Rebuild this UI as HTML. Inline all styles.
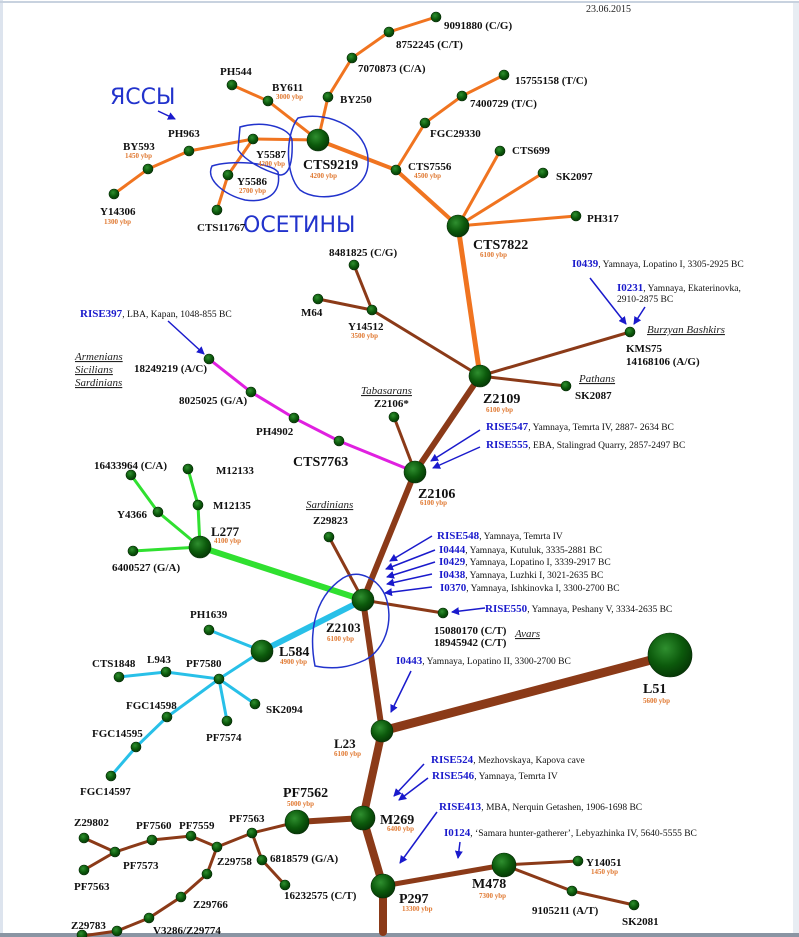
<!DOCTYPE html>
<html><head><meta charset="utf-8"><style>
html,body{margin:0;padding:0;background:#fff;}
svg{display:block;font-family:"Liberation Serif",serif;}
.l{font-weight:bold;font-size:11px;fill:#111;}
.b{font-weight:bold;font-size:14px;fill:#111;}
.y{font-weight:bold;font-size:7px;fill:#e07830;}
.a{font-size:9.5px;fill:#111;}
.k{font-weight:bold;fill:#1a1acc;font-size:11px;}
.i{font-style:italic;font-size:11px;fill:#222;text-decoration:underline;}
.h{font-family:"DejaVu Sans",sans-serif;font-size:22px;fill:#2233cc;}
</style></head><body>
<svg width="799" height="937" viewBox="0 0 799 937" xmlns="http://www.w3.org/2000/svg">
<defs>
<radialGradient id="g" cx="40%" cy="35%" r="65%"><stop offset="0" stop-color="#2f8f2f"/><stop offset="0.6" stop-color="#0c5a0c"/><stop offset="1" stop-color="#063a06"/></radialGradient>
<marker id="ar" markerWidth="8" markerHeight="8" refX="7" refY="4" orient="auto" markerUnits="userSpaceOnUse"><path d="M0,0 L8,4 L0,8 z" fill="#1a1acc"/></marker>
</defs>
<rect x="0" y="0" width="799" height="937" fill="#fff"/>
<rect x="0" y="0" width="3" height="937" fill="#dde4ee"/>
<rect x="0" y="1" width="799" height="2" fill="#c8d2df"/>
<rect x="793" y="3" width="6" height="934" fill="#e8edf3"/>
<rect x="0" y="933" width="799" height="4" fill="#8a95a3"/>

<g fill="none" stroke-linecap="round">
<!-- orange -->
<g stroke="#f07420" stroke-width="3">
<path d="M318,140 L328,97 L352,58 L389,32 L436,17"/>
<path d="M318,140 L268,101 L232,85"/>
<path d="M318,140 L253,139 L189,151 L148,169 L114,194"/>
<path d="M253,139 L228,175 L217,210"/>
<path d="M396,170 L425,123 L462,96 L504,75"/>
<path d="M458,226 L500,151 M458,226 L543,173 M458,226 L576,216"/>
</g>
<path d="M318,140 L396,170 L458,226" stroke="#f07420" stroke-width="4"/>
<path d="M458,226 L480,376" stroke="#f07420" stroke-width="5"/>
<!-- brown thin -->
<g stroke="#8b3a18" stroke-width="3">
<path d="M354,265 L372,310 L480,376 M318,299 L372,310"/>
<path d="M480,376 L630,332 M480,376 L566,386"/>
<path d="M394,417 L415,472"/>
<path d="M329,537 L363,600 L443,613"/>
<path d="M297,822 L252,833 L217,847 L191,836 L152,840 L115,852 L84,838 M115,852 L84,870"/>
<path d="M252,833 L262,860 L285,885"/>
<path d="M217,847 L207,874 L181,897 L149,918 L117,931 L82,936"/>
<path d="M504,865 L578,861 M504,865 L572,891 L634,905"/>
</g>
<path d="M480,376 L415,472 L363,600 L382,731" stroke="#8b3a18" stroke-width="6"/>
<path d="M382,731 L670,655" stroke="#8b3a18" stroke-width="9"/>
<path d="M382,731 L363,818 L383,886 L383,932" stroke="#8b3a18" stroke-width="8"/>
<path d="M363,818 L297,822" stroke="#8b3a18" stroke-width="6"/>
<path d="M383,886 L504,865" stroke="#8b3a18" stroke-width="5"/>
<!-- magenta -->
<path d="M209,359 L251,392 L294,418 L339,441 L415,472" stroke="#e020e0" stroke-width="3"/>
<!-- green -->
<g stroke="#30e030" stroke-width="3">
<path d="M131,475 L158,512 L200,547 M188,469 L198,505 L200,547 M133,551 L200,547"/>
</g>
<path d="M200,547 L363,600" stroke="#30e030" stroke-width="6"/>
<!-- cyan -->
<g stroke="#28c0e8" stroke-width="3">
<path d="M209,630 L262,651 M119,677 L166,672 L219,679 L262,651"/>
<path d="M219,679 L255,704 M219,679 L227,721 M219,679 L167,717 L136,747 L111,776"/>
</g>
<path d="M262,651 L363,600" stroke="#28c0e8" stroke-width="6"/>
</g>

<g fill="url(#g)" stroke="#052a05" stroke-width="0.6">
<circle cx="318" cy="140" r="11"/><circle cx="328" cy="97" r="5"/><circle cx="352" cy="58" r="5"/><circle cx="389" cy="32" r="5"/><circle cx="436" cy="17" r="5"/>
<circle cx="268" cy="101" r="5"/><circle cx="232" cy="85" r="5"/><circle cx="253" cy="139" r="5"/><circle cx="189" cy="151" r="5"/><circle cx="148" cy="169" r="5"/><circle cx="114" cy="194" r="5"/>
<circle cx="228" cy="175" r="5"/><circle cx="217" cy="210" r="5"/><circle cx="396" cy="170" r="5"/><circle cx="425" cy="123" r="5"/><circle cx="462" cy="96" r="5"/><circle cx="504" cy="75" r="5"/>
<circle cx="458" cy="226" r="11"/><circle cx="500" cy="151" r="5"/><circle cx="543" cy="173" r="5"/><circle cx="576" cy="216" r="5"/>
<circle cx="354" cy="265" r="5"/><circle cx="318" cy="299" r="5"/><circle cx="372" cy="310" r="5"/><circle cx="630" cy="332" r="5"/><circle cx="566" cy="386" r="5"/>
<circle cx="480" cy="376" r="11"/><circle cx="415" cy="472" r="11"/><circle cx="394" cy="417" r="5"/>
<circle cx="209" cy="359" r="5"/><circle cx="251" cy="392" r="5"/><circle cx="294" cy="418" r="5"/><circle cx="339" cy="441" r="5"/>
<circle cx="131" cy="475" r="5"/><circle cx="158" cy="512" r="5"/><circle cx="188" cy="469" r="5"/><circle cx="198" cy="505" r="5"/><circle cx="133" cy="551" r="5"/><circle cx="200" cy="547" r="11"/>
<circle cx="329" cy="537" r="5"/><circle cx="363" cy="600" r="11"/><circle cx="443" cy="613" r="5"/>
<circle cx="262" cy="651" r="11"/><circle cx="209" cy="630" r="5"/><circle cx="219" cy="679" r="5"/><circle cx="166" cy="672" r="5"/><circle cx="119" cy="677" r="5"/><circle cx="255" cy="704" r="5"/><circle cx="227" cy="721" r="5"/><circle cx="167" cy="717" r="5"/><circle cx="136" cy="747" r="5"/><circle cx="111" cy="776" r="5"/>
<circle cx="382" cy="731" r="11"/><circle cx="670" cy="655" r="22"/><circle cx="363" cy="818" r="12"/><circle cx="383" cy="886" r="12"/><circle cx="297" cy="822" r="12"/>
<circle cx="252" cy="833" r="5"/><circle cx="217" cy="847" r="5"/><circle cx="191" cy="836" r="5"/><circle cx="152" cy="840" r="5"/><circle cx="115" cy="852" r="5"/><circle cx="84" cy="838" r="5"/><circle cx="84" cy="870" r="5"/>
<circle cx="262" cy="860" r="5"/><circle cx="285" cy="885" r="5"/><circle cx="207" cy="874" r="5"/><circle cx="181" cy="897" r="5"/><circle cx="149" cy="918" r="5"/><circle cx="117" cy="931" r="5"/><circle cx="82" cy="935" r="5"/>
<circle cx="504" cy="865" r="12"/><circle cx="578" cy="861" r="5"/><circle cx="572" cy="891" r="5"/><circle cx="634" cy="905" r="5"/>
</g>

<!-- arrows -->
<g stroke="#1a1acc" stroke-width="1.5" marker-end="url(#ar)">
<line x1="590" y1="278" x2="626" y2="324"/><line x1="645" y1="307" x2="634" y2="324"/>
<line x1="168" y1="321" x2="204" y2="354"/>
<line x1="480" y1="430" x2="431" y2="461"/><line x1="480" y1="447" x2="433" y2="468"/>
<line x1="432" y1="536" x2="390" y2="561"/><line x1="435" y1="550" x2="386" y2="569"/><line x1="435" y1="562" x2="387" y2="577"/><line x1="432" y1="574" x2="387" y2="584"/><line x1="432" y1="587" x2="385" y2="593"/>
<line x1="485" y1="608" x2="452" y2="612"/>
<line x1="411" y1="671" x2="391" y2="712"/>
<line x1="424" y1="764" x2="394" y2="796"/><line x1="428" y1="778" x2="399" y2="800"/>
<line x1="437" y1="812" x2="400" y2="863"/>
<line x1="460" y1="842" x2="458" y2="858"/>
<line x1="158" y1="111" x2="175" y2="119"/>
</g>

<!-- hand drawn -->
<g fill="none" stroke="#2233cc" stroke-width="1.5">
<path d="M298,118 C330,110 368,130 368,160 C370,195 320,205 300,190 C285,175 285,135 298,118 Z"/>
<path d="M240,127 C265,120 290,128 292,140 C293,160 290,175 280,175 C262,170 245,160 238,150 Z"/>
<path d="M212,166 C230,160 270,162 278,172 C282,195 265,203 245,200 C225,195 205,180 212,166 Z"/>
<path d="M343,578 C360,568 378,580 385,595 C395,620 385,650 365,660 C350,667 335,670 315,666 C310,640 310,600 343,578 Z"/>
</g>
<text x="110" y="104" class="h">ЯССЫ</text>
<text x="243" y="232" class="h">ОСЕТИНЫ</text>

<text x="586" y="12" style="font-size:10px;fill:#222">23.06.2015</text>

<!-- labels orange area -->
<text x="220" y="75" class="l">PH544</text>
<text x="272" y="91" class="l">BY611</text><text x="276" y="99" class="y">3000 ybp</text>
<text x="340" y="103" class="l">BY250</text>
<text x="358" y="72" class="l">7070873 (C/A)</text>
<text x="396" y="48" class="l">8752245 (C/T)</text>
<text x="444" y="29" class="l">9091880 (C/G)</text>
<text x="168" y="137" class="l">PH963</text>
<text x="123" y="150" class="l">BY593</text><text x="125" y="158" class="y">1450 ybp</text>
<text x="100" y="215" class="l">Y14306</text><text x="104" y="224" class="y">1300 ybp</text>
<text x="256" y="158" class="l">Y5587</text><text x="258" y="166" class="y">4200 ybp</text>
<text x="237" y="185" class="l">Y5586</text><text x="239" y="193" class="y">2700 ybp</text>
<text x="197" y="231" class="l">CTS11767</text>
<text x="303" y="169" class="b">CTS9219</text><text x="310" y="178" class="y">4200 ybp</text>
<text x="408" y="170" class="l">CTS7556</text><text x="414" y="178" class="y">4500 ybp</text>
<text x="430" y="137" class="l">FGC29330</text>
<text x="470" y="107" class="l">7400729 (T/C)</text>
<text x="515" y="84" class="l">15755158 (T/C)</text>
<text x="512" y="154" class="l">CTS699</text>
<text x="556" y="180" class="l">SK2097</text>
<text x="587" y="222" class="l">PH317</text>
<text x="473" y="249" class="b">CTS7822</text><text x="480" y="257" class="y">6100 ybp</text>

<text x="329" y="256" class="l">8481825 (C/G)</text>
<text x="301" y="316" class="l">M64</text>
<text x="348" y="330" class="l">Y14512</text><text x="351" y="338" class="y">3500 ybp</text>
<text x="572" y="267"><tspan class="k">I0439</tspan><tspan class="a">, Yamnaya, Lopatino I, 3305-2925 BC</tspan></text>
<text x="617" y="291"><tspan class="k">I0231</tspan><tspan class="a">, Yamnaya, Ekaterinovka,</tspan></text>
<text x="617" y="302" class="a">2910-2875 BC</text>
<text x="647" y="333" class="i">Burzyan Bashkirs</text>
<text x="626" y="352" class="l">KMS75</text><text x="626" y="365" class="l">14168106 (A/G)</text>
<text x="579" y="382" class="i">Pathans</text>
<text x="575" y="399" class="l">SK2087</text>
<text x="483" y="403" class="b">Z2109</text><text x="486" y="412" class="y">6100 ybp</text>
<text x="486" y="430"><tspan class="k">RISE547</tspan><tspan class="a">, Yamnaya, Temrta IV, 2887- 2634 BC</tspan></text>
<text x="486" y="448"><tspan class="k">RISE555</tspan><tspan class="a">, EBA, Stalingrad Quarry, 2857-2497 BC</tspan></text>
<text x="418" y="498" class="b">Z2106</text><text x="420" y="505" class="y">6100 ybp</text>
<text x="361" y="394" class="i">Tabasarans</text>
<text x="374" y="407" class="l">Z2106*</text>

<text x="80" y="317"><tspan class="k">RISE397</tspan><tspan class="a">, LBA, Kapan, 1048-855 BC</tspan></text>
<text x="75" y="360" class="i">Armenians</text><text x="75" y="373" class="i">Sicilians</text><text x="75" y="386" class="i">Sardinians</text>
<text x="134" y="372" class="l">18249219 (A/C)</text>
<text x="179" y="404" class="l">8025025 (G/A)</text>
<text x="256" y="435" class="l">PH4902</text>
<text x="293" y="466" class="b">CTS7763</text>

<text x="94" y="469" class="l">16433964 (C/A)</text>
<text x="216" y="474" class="l">M12133</text>
<text x="213" y="509" class="l">M12135</text>
<text x="117" y="518" class="l">Y4366</text>
<text x="211" y="536" class="b" style="font-size:13px">L277</text><text x="214" y="543" class="y">4100 ybp</text>
<text x="112" y="571" class="l">6400527 (G/A)</text>
<text x="306" y="508" class="i">Sardinians</text>
<text x="313" y="524" class="l">Z29823</text>

<text x="437" y="539"><tspan class="k">RISE548</tspan><tspan class="a">, Yamnaya, Temrta IV</tspan></text>
<text x="439" y="553"><tspan class="k">I0444</tspan><tspan class="a">, Yamnaya, Kutuluk, 3335-2881 BC</tspan></text>
<text x="439" y="565"><tspan class="k">I0429</tspan><tspan class="a">, Yamnaya, Lopatino I, 3339-2917 BC</tspan></text>
<text x="439" y="578"><tspan class="k">I0438</tspan><tspan class="a">, Yamnaya, Luzhki I, 3021-2635 BC</tspan></text>
<text x="440" y="591"><tspan class="k">I0370</tspan><tspan class="a">, Yamnaya, Ishkinovka I, 3300-2700 BC</tspan></text>
<text x="485" y="612"><tspan class="k">RISE550</tspan><tspan class="a">, Yamnaya, Peshany V, 3334-2635 BC</tspan></text>
<text x="434" y="634" class="l">15080170 (C/T)</text><text x="434" y="646" class="l">18945942 (C/T)</text>
<text x="515" y="637" class="i">Avars</text>
<text x="326" y="632" class="b" style="font-size:13px">Z2103</text><text x="327" y="641" class="y">6100 ybp</text>

<text x="190" y="618" class="l">PH1639</text>
<text x="279" y="656" class="b">L584</text><text x="280" y="664" class="y">4900 ybp</text>
<text x="92" y="667" class="l">CTS1848</text>
<text x="147" y="663" class="l">L943</text>
<text x="186" y="667" class="l">PF7580</text>
<text x="266" y="713" class="l">SK2094</text>
<text x="206" y="741" class="l">PF7574</text>
<text x="126" y="709" class="l">FGC14598</text>
<text x="92" y="737" class="l">FGC14595</text>
<text x="80" y="795" class="l">FGC14597</text>

<text x="396" y="664"><tspan class="k">I0443</tspan><tspan class="a">, Yamnaya, Lopatino II, 3300-2700 BC</tspan></text>
<text x="643" y="693" class="b">L51</text><text x="643" y="703" class="y">5600 ybp</text>
<text x="334" y="748" class="b" style="font-size:13px">L23</text><text x="334" y="756" class="y">6100 ybp</text>
<text x="431" y="763"><tspan class="k">RISE524</tspan><tspan class="a">, Mezhovskaya, Kapova cave</tspan></text>
<text x="432" y="779"><tspan class="k">RISE546</tspan><tspan class="a">, Yamnaya, Temrta IV</tspan></text>
<text x="380" y="824" class="b">M269</text><text x="387" y="831" class="y">6400 ybp</text>
<text x="439" y="810"><tspan class="k">RISE413</tspan><tspan class="a">, MBA, Nerquin Getashen, 1906-1698 BC</tspan></text>
<text x="444" y="836"><tspan class="k">I0124</tspan><tspan class="a">, ‘Samara hunter-gatherer’, Lebyazhinka IV, 5640-5555 BC</tspan></text>
<text x="283" y="797" class="b">PF7562</text><text x="287" y="806" class="y">5000 ybp</text>
<text x="399" y="903" class="b">P297</text><text x="402" y="911" class="y">13300 ybp</text>
<text x="472" y="888" class="b">M478</text><text x="479" y="898" class="y">7300 ybp</text>
<text x="586" y="866" class="l">Y14051</text><text x="591" y="874" class="y">1450 ybp</text>
<text x="532" y="914" class="l">9105211 (A/T)</text>
<text x="622" y="925" class="l">SK2081</text>

<text x="74" y="826" class="l">Z29802</text>
<text x="136" y="829" class="l">PF7560</text>
<text x="179" y="829" class="l">PF7559</text>
<text x="229" y="822" class="l">PF7563</text>
<text x="123" y="869" class="l">PF7573</text>
<text x="74" y="890" class="l">PF7563</text>
<text x="217" y="865" class="l">Z29758</text>
<text x="270" y="862" class="l">6818579 (G/A)</text>
<text x="284" y="899" class="l">16232575 (C/T)</text>
<text x="193" y="908" class="l">Z29766</text>
<text x="153" y="934" class="l">V3286/Z29774</text>
<text x="71" y="929" class="l">Z29783</text>
</svg>
</body></html>
